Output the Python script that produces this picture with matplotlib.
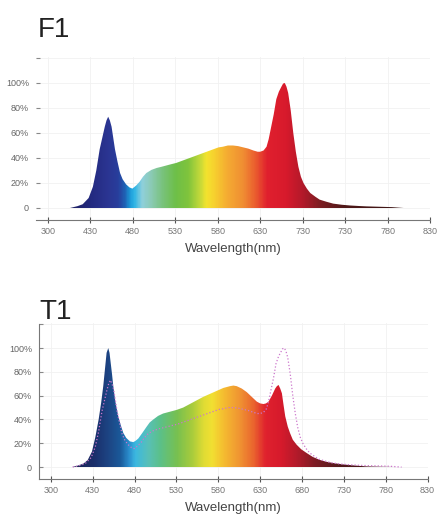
import matplotlib
matplotlib.use("Agg")
import matplotlib.pyplot as plt
import numpy as np
from matplotlib.colors import LinearSegmentedColormap
from matplotlib.patches import Polygon

plt.rcParams['font.family'] = ['Liberation Sans', 'DejaVu Sans']

# tick labels as printed on the chart (first tick stands for 380 nm on the data scale)
tick_nm = [380, 430, 480, 530, 580, 630, 680, 730, 780, 830]
f1_xlabels = ['300', '430', '480', '530', '580', '630', '730', '730', '780', '830']
t1_xlabels = ['300', '430', '480', '530', '580', '630', '680', '730', '780', '830']
y_ticks = [0, 20, 40, 60, 80, 100, 120]
y_labels = ['0', '20%', '40%', '60%', '80%', '100%', '']

# F1 spectrum (nm, relative %)
f1_wl = [406, 415, 421, 428, 433, 437, 441, 444, 447, 449, 451, 453, 455, 457, 459,
         462, 465, 468, 472, 476, 479.5, 484, 488, 492, 496, 502, 508, 514, 519.5,
         525, 531, 537, 543, 551, 559, 567, 575, 581, 586, 592, 598, 604, 610, 616,
         622, 627, 630, 634, 637.5, 640, 643, 646, 649, 652, 655, 657, 659, 661, 663,
         666, 669, 672, 675, 678, 681, 685, 689, 695, 700, 708, 716, 726, 736, 746,
         755, 770, 785, 799]
f1_val = [0, 1.5, 3, 8, 17, 30, 47, 56, 65, 70, 73, 70, 65, 56, 47,
          37, 28, 23, 19, 16.5, 15.5, 18, 21, 25, 28, 30.5, 32, 33, 34,
          35, 36, 37.5, 39, 41, 43, 45, 47, 48.5, 49, 50, 50, 49.5, 48.5, 47.5,
          46, 45, 45, 46, 49, 55, 65, 75, 87, 93, 97, 99.5, 100, 97, 92,
          78, 60, 45, 33, 25, 20, 15.5, 12, 9, 6.7, 5, 3.5, 2.6, 2, 1.6,
          1.3, 1, 0.7, 0]

# T1 spectrum (nm, relative %)
t1_wl = [405, 412, 419, 424, 429, 433, 437, 440, 442.5, 444.5, 446.5, 448.5, 450,
         451, 453, 454.5, 457, 460.5, 463.5, 466.5, 470, 474.4, 478.4, 481, 484.4,
         489, 494.4, 498, 502.3, 508, 514, 522, 530, 538, 546, 554, 562, 570, 578,
         586, 594, 598, 602, 608, 614, 620, 626, 630, 634, 637, 640, 644, 648, 650,
         652, 654, 656, 658, 660, 663, 665.7, 669, 673.6, 679, 685.6, 693, 701.5,
         709, 717.5, 727, 737, 747, 757, 775, 797]
t1_val = [0, 1.2, 3, 6, 13, 25, 40, 54, 68, 82, 96, 100, 96,
          90, 78, 68, 55, 42.6, 35, 28.6, 24.5, 21.6, 21, 22, 24,
          28.5, 34, 37.5, 40, 43, 45, 46.5, 48, 50, 53, 56, 59, 61.5, 64,
          66.5, 68, 68.5, 68, 66, 63, 59, 55, 53.5, 53, 53.5, 55, 60, 66, 68,
          69, 66, 62, 52, 42.6, 34, 28.6, 23, 18.8, 15, 11.8, 8.5, 6,
          4.5, 3.4, 2.4, 1.7, 1.1, 0.6, 0.3, 0]

# colour stops along wavelength
f1_stops = [(400, '#1e1e5c'), (430, '#232a80'), (450, '#2b3592'), (462, '#283e9c'),
            (470, '#1f62b5'), (476, '#1d9ad8'), (481, '#2fb5e6'), (490, '#8fd0dc'),
            (500, '#8ccbb8'), (515, '#78c27a'), (530, '#6ebf48'), (545, '#80c43c'),
            (558, '#c0d83a'), (566, '#f3e32e'), (575, '#f7d22e'), (590, '#f5ad32'),
            (610, '#f08d33'), (625, '#ea5a2e'), (638, '#e0202e'), (660, '#d81a2c'),
            (680, '#b3192a'), (700, '#7e1d22'), (730, '#4e1818'), (800, '#3a1515')]
t1_stops = [(400, '#1a2050'), (430, '#1a2e6a'), (448, '#1d4584'), (462, '#1a5a9a'),
            (472, '#2a8ccc'), (480, '#3cb8e0'), (495, '#58c0b8'), (510, '#5cc088'),
            (530, '#78c050'), (548, '#a8cc3c'), (562, '#e0dc34'), (572, '#f2e032'),
            (585, '#f5be30'), (605, '#f09432'), (622, '#ea642e'), (636, '#e0222e'),
            (655, '#d61a2c'), (675, '#b01a2a'), (695, '#7e1c24'), (725, '#521a1c'),
            (800, '#3c1616')]


def spectrum_cmap(stops):
    lo, hi = stops[0][0], stops[-1][0]
    return LinearSegmentedColormap.from_list(
        'spec', [((w - lo) / (hi - lo), c) for w, c in stops]), lo, hi


def draw_panel(ax, wl, val, stops, xlabels, left_spine):
    cmap, lo, hi = spectrum_cmap(stops)
    grad = np.linspace(lo, hi, 600).reshape(1, -1)
    im = ax.imshow(grad, extent=[lo, hi, 0, 110], origin='lower', aspect='auto',
                   cmap=cmap, vmin=lo, vmax=hi, interpolation='bilinear', zorder=2)
    poly = Polygon(np.column_stack([wl, val]), closed=True, facecolor='none',
                   edgecolor='none', transform=ax.transData)
    ax.add_patch(poly)
    im.set_clip_path(poly)

    ax.set_xticks(tick_nm)
    ax.set_xticklabels(xlabels)
    ax.set_yticks(y_ticks)
    ax.set_yticklabels(y_labels)
    ax.grid(True, color='#f1f1f1', lw=0.6, zorder=0)
    ax.set_axisbelow(True)
    for s in ['top', 'right']:
        ax.spines[s].set_visible(False)
    ax.spines['left'].set_visible(left_spine)
    ax.spines['left'].set_color('#777777')
    ax.spines['bottom'].set_color('#777777')
    ax.spines['left'].set_bounds(-10, 120)
    ax.tick_params(axis='x', direction='inout', length=4, width=0.8, color='#555555',
                   labelsize=6.5, labelcolor='#777777', pad=3)
    ax.tick_params(axis='y', direction='in', length=3, width=0.8, color='#888888',
                   labelsize=6.5, labelcolor='#666666', pad=5)
    ax.set_xlabel('Wavelength(nm)', fontsize=9.5, color='#444444', labelpad=5)


fig = plt.figure(figsize=(4.38, 5.18), dpi=100)

ax1 = fig.add_axes([0.0822, 0.5753, 0.8995, 0.3152])
draw_panel(ax1, f1_wl, f1_val, f1_stops, f1_xlabels, False)
ax1.set_xlim(366, 830)
ax1.set_ylim(-9.6, 121)

ax2 = fig.add_axes([0.089, 0.0753, 0.888, 0.301])
draw_panel(ax2, t1_wl, t1_val, t1_stops, t1_xlabels, True)
ax2.plot(f1_wl, f1_val, color='#cc77cc', lw=0.9, ls=':', zorder=3)
ax2.set_xlim(365.7, 830.5)
ax2.set_ylim(-10, 121)

fig.text(0.087, 0.942, 'F1', fontsize=20, color='#222222', va='center')
fig.text(0.091, 0.398, 'T1', fontsize=20, color='#222222', va='center')

fig.savefig('out.png', dpi=100)
